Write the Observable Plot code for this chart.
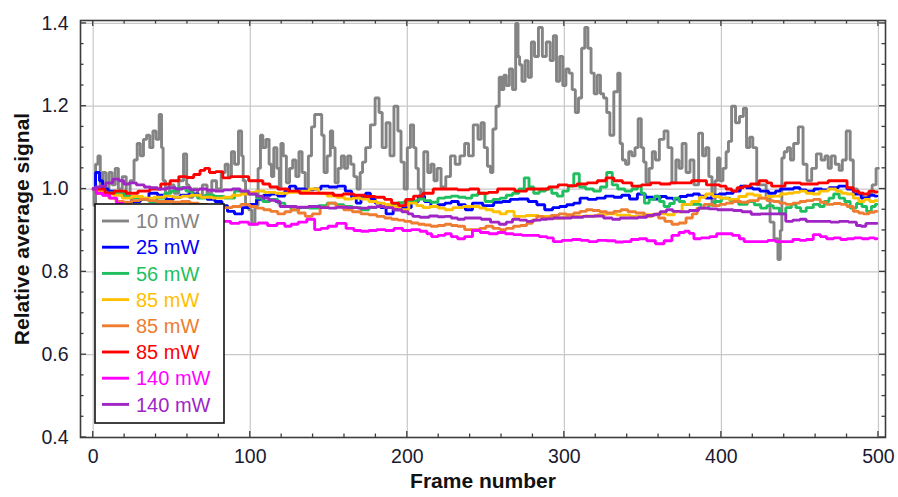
<!DOCTYPE html>
<html>
<head>
<meta charset="utf-8">
<script src="https://cdn.jsdelivr.net/npm/d3@7"></script>
<script src="https://cdn.jsdelivr.net/npm/@observablehq/plot@0.6"></script>
<style>
  body { margin: 0; background: #fff; }
  #chart { width: 898px; height: 497px; }
</style>
</head>
<body>
<div id="chart"></div>
<script>
// Relative average signal per frame, one [frame, value] list per laser power
const p10 = [[0,1.00],[1,0.96],[2,1.06],[4,1.08],[5,1.00],[7,1.04],[9,0.99],[11,1.04],[13,1.01],[15,1.05],[17,1.00],[20,1.03],[22,0.99],[25,1.02],[27,1.07],[29,1.11],[31,1.08],[33,1.12],[35,1.13],[37,1.10],[39,1.14],[41,1.12],[43,1.18],[44,1.10],[45,1.02],[47,0.99],[50,1.01],[53,0.99],[56,1.02],[59,1.085],[60,1.01],[62,0.98],[65,1.00],[68,0.985],[71,1.01],[74,0.99],[77,1.02],[80,1.00],[83,1.04],[85,1.06],[87,1.03],[89,1.09],[91,1.06],[94,1.14],[95,1.08],[96,1.02],[98,0.96],[100,0.95],[102,0.915],[104,0.96],[106,1.05],[107,1.13],[109,1.10],[111,1.12],[113,1.06],[114,1.03],[116,1.10],[118,1.05],[119,1.00],[120,1.11],[122,1.08],[124,1.015],[126,1.05],[128,1.07],[130,1.03],[132,1.09],[134,1.04],[136,1.00],[138,1.08],[140,1.15],[142,1.18],[145,1.18],[146,1.13],[148,1.04],[150,1.08],[152,1.14],[153,1.10],[155,1.015],[157,1.05],[159,1.08],[161,1.05],[163,1.08],[165,1.06],[167,1.03],[169,1.00],[171,1.04],[172,1.065],[175,1.10],[178,1.155],[181,1.22],[183,1.185],[185,1.10],[188,1.16],[190,1.08],[193,1.20],[195,1.14],[197,1.065],[199,1.00],[201,1.10],[203,1.155],[205,1.10],[206,1.05],[208,1.00],[209,0.98],[212,1.09],[214,1.04],[216,1.06],[218,1.02],[220,1.05],[223,1.005],[226,1.03],[229,1.08],[232,1.06],[235,1.08],[238,1.11],[240,1.08],[244,1.155],[246,1.12],[248,1.16],[250,1.10],[252,1.055],[254,1.04],[255,1.145],[258,1.20],[259,1.27],[261,1.24],[262,1.275],[264,1.25],[266,1.29],[268,1.24],[270,1.40],[271,1.32],[272,1.30],[274,1.26],[276,1.31],[278,1.27],[280,1.355],[282,1.32],[285,1.39],[287,1.32],[290,1.355],[292,1.31],[294,1.37],[296,1.26],[298,1.32],[300,1.25],[302,1.29],[304,1.28],[306,1.24],[308,1.185],[310,1.22],[312,1.34],[314,1.39],[316,1.34],[318,1.28],[320,1.23],[322,1.275],[324,1.23],[326,1.22],[328,1.185],[330,1.13],[333,1.235],[335,1.28],[336,1.11],[338,1.07],[340,1.06],[342,1.09],[344,1.08],[346,1.10],[348,1.17],[350,1.10],[351,1.065],[353,1.015],[355,1.05],[357,1.09],[359,1.07],[362,1.12],[365,1.14],[367,1.10],[370,1.015],[372,1.07],[374,1.05],[376,1.11],[379,1.04],[381,1.07],[384,1.01],[387,1.135],[389,1.08],[391,1.10],[393,1.03],[395,0.96],[397,1.02],[398,1.075],[400,1.02],[402,1.05],[404,1.09],[405,1.115],[408,1.20],[410,1.16],[413,1.175],[415,1.195],[417,1.10],[419,1.125],[421,1.10],[424,1.01],[427,1.01],[430,0.98],[432,0.92],[435,0.88],[437,0.83],[438,0.90],[439,1.075],[441,1.09],[443,1.10],[445,1.07],[447,1.11],[451,1.15],[453,1.06],[456,1.02],[459,1.05],[462,1.085],[465,1.07],[467,1.08],[469,1.05],[471,1.08],[474,1.06],[476,1.045],[478,1.07],[481,1.14],[483,1.07],[485,1.00],[488,0.99],[492,0.98],[495,0.99],[497,1.01],[500,1.05]];

const p25 = [[0,1.0],[3,1.04],[5,1.02],[7,1.0],[12,0.995],[17,0.988],[22,0.98],[27,0.97],[33,0.975],[38,0.99],[44,0.985],[49,0.975],[53,0.98],[58,0.985],[64,0.988],[70,0.98],[75,0.975],[80,0.97],[84,0.96],[87,0.946],[93,0.94],[97,0.955],[102,0.963],[106,0.975],[111,0.985],[115,0.988],[120,0.983],[124,0.995],[126,1.007],[132,1.0],[138,0.998],[143,1.0],[147,1.007],[153,1.005],[158,1.007],[163,0.995],[166,0.98],[169,0.966],[172,0.98],[175,0.99],[178,0.975],[181,0.966],[185,0.955],[188,0.94],[194,0.95],[200,0.955],[205,0.97],[209,0.983],[213,0.97],[217,0.958],[222,0.962],[226,0.966],[230,0.97],[235,0.962],[239,0.95],[244,0.966],[252,0.96],[258,0.968],[263,0.97],[268,0.975],[274,0.976],[280,0.97],[285,0.962],[290,0.95],[295,0.955],[299,0.958],[304,0.962],[308,0.966],[312,0.978],[318,0.975],[323,0.978],[329,0.983],[334,0.98],[339,0.985],[344,0.976],[349,0.988],[354,0.98],[359,0.976],[363,0.982],[367,0.978],[371,0.976],[376,0.982],[380,0.985],[384,0.988],[388,0.983],[392,0.978],[396,0.985],[401,0.988],[405,0.99],[410,0.995],[414,1.007],[418,1.003],[422,1.0],[427,0.995],[433,0.99],[436,0.995],[439,1.0],[444,1.0],[448,1.003],[452,0.998],[456,0.995],[462,1.0],[466,0.998],[471,1.003],[478,1.007],[482,1.0],[486,0.988],[492,0.978],[496,0.985],[499,0.983]];

const p56 = [[0,1.0],[4,0.995],[8,0.988],[13,0.99],[18,0.99],[23,0.982],[27,0.978],[33,0.975],[38,0.97],[43,0.978],[48,0.99],[51,0.995],[57,1.003],[61,0.995],[65,0.985],[68,0.978],[74,0.985],[80,0.982],[87,0.978],[93,0.995],[97,0.99],[102,0.988],[106,0.978],[110,0.97],[115,0.975],[120,0.966],[124,0.958],[128,0.95],[134,0.955],[141,0.954],[146,0.96],[152,0.966],[157,0.962],[162,0.958],[168,0.955],[173,0.95],[178,0.955],[183,0.958],[188,0.96],[192,0.963],[196,0.967],[200,0.97],[205,0.972],[209,0.976],[213,0.972],[217,0.968],[222,0.978],[226,0.98],[230,0.983],[235,0.98],[239,0.978],[243,0.985],[247,0.99],[252,0.97],[257,0.975],[261,0.978],[265,0.985],[269,0.99],[273,1.0],[276,1.027],[279,1.005],[282,0.99],[286,0.995],[290,1.0],[294,0.99],[297,0.983],[301,0.995],[304,1.007],[308,1.037],[311,1.005],[316,1.0],[321,0.995],[325,1.005],[329,1.04],[332,1.01],[336,1.0],[341,0.995],[345,1.0],[348,1.007],[350,0.99],[352,0.966],[356,0.975],[359,0.983],[362,0.97],[365,0.958],[369,0.965],[371,0.978],[375,0.97],[378,0.963],[384,0.963],[390,0.954],[394,0.962],[397,0.97],[403,0.978],[408,0.972],[414,0.963],[419,0.97],[423,0.962],[427,0.954],[431,0.96],[435,0.954],[439,0.94],[443,0.955],[446,0.963],[449,0.955],[452,0.946],[456,0.955],[461,0.963],[464,0.958],[467,0.97],[470,0.978],[473,0.988],[477,0.978],[480,0.97],[484,0.954],[488,0.965],[491,0.958],[494,0.946],[497,0.958],[499,0.963]];

const p85a = [[0,1.0],[5,0.995],[10,0.99],[16,0.985],[21,0.978],[28,0.982],[35,0.978],[42,0.98],[48,0.983],[54,0.98],[59,0.983],[65,0.985],[72,0.98],[80,0.978],[86,0.98],[91,0.985],[97,0.988],[101,0.992],[106,0.995],[112,0.992],[120,0.99],[128,0.992],[134,0.995],[141,1.0],[146,0.99],[152,0.983],[158,0.98],[162,0.976],[168,0.978],[173,0.976],[178,0.97],[183,0.966],[188,0.962],[192,0.958],[198,0.95],[204,0.966],[208,0.96],[212,0.955],[217,0.958],[222,0.954],[226,0.95],[232,0.955],[239,0.958],[244,0.958],[248,0.954],[252,0.95],[257,0.945],[261,0.94],[265,0.946],[271,0.934],[280,0.936],[287,0.934],[297,0.93],[303,0.933],[308,0.934],[318,0.935],[324,0.938],[329,0.94],[338,0.937],[346,0.934],[354,0.938],[363,0.94],[368,0.938],[372,0.945],[378,0.963],[384,0.97],[388,0.98],[392,0.988],[397,0.982],[401,0.978],[408,0.975],[414,0.982],[418,0.988],[423,0.985],[427,0.978],[431,0.982],[435,0.983],[440,0.988],[444,0.99],[448,0.992],[452,0.995],[456,0.99],[460,0.988],[465,0.995],[471,1.0],[475,0.995],[478,0.99],[482,0.988],[486,0.978],[489,0.97],[493,0.975],[496,0.97],[499,0.972]];

const p85b = [[0,1.0],[4,0.99],[8,0.985],[12,0.978],[17,0.97],[22,0.968],[27,0.972],[32,0.975],[38,0.972],[43,0.97],[48,0.97],[53,0.968],[59,0.97],[64,0.966],[70,0.963],[75,0.958],[80,0.954],[86,0.955],[91,0.958],[97,0.963],[102,0.958],[106,0.954],[111,0.95],[115,0.946],[120,0.94],[124,0.945],[128,0.95],[133,0.942],[137,0.934],[142,0.94],[147,0.955],[152,0.966],[157,0.958],[162,0.95],[168,0.945],[173,0.94],[178,0.938],[183,0.934],[188,0.93],[192,0.927],[196,0.925],[200,0.922],[205,0.918],[209,0.915],[213,0.913],[217,0.91],[222,0.912],[226,0.915],[230,0.912],[234,0.91],[239,0.902],[244,0.902],[248,0.905],[252,0.91],[257,0.905],[261,0.902],[265,0.905],[270,0.91],[274,0.912],[278,0.917],[281,0.925],[284,0.934],[289,0.93],[294,0.936],[299,0.94],[304,0.938],[308,0.942],[312,0.946],[316,0.95],[320,0.948],[325,0.945],[329,0.942],[334,0.946],[338,0.95],[343,0.945],[348,0.942],[354,0.934],[358,0.938],[362,0.93],[366,0.922],[371,0.915],[375,0.918],[380,0.93],[383,0.94],[386,0.954],[392,0.963],[397,0.96],[401,0.963],[405,0.966],[410,0.97],[415,0.968],[420,0.972],[427,0.978],[431,0.972],[435,0.97],[439,0.966],[443,0.963],[448,0.966],[452,0.97],[456,0.972],[461,0.975],[465,0.968],[469,0.963],[474,0.965],[478,0.963],[482,0.958],[486,0.946],[489,0.942],[492,0.94],[496,0.944],[499,0.946]];

const p85c = [[0,1.0],[5,1.0],[10,0.99],[17,0.995],[25,0.99],[32,0.995],[40,1.0],[46,1.012],[52,1.02],[57,1.03],[62,1.028],[66,1.035],[70,1.045],[72,1.05],[76,1.04],[80,1.042],[85,1.027],[90,1.03],[96,1.03],[102,1.02],[106,1.02],[110,1.012],[115,1.005],[120,1.0],[128,0.995],[135,0.99],[141,0.99],[150,0.99],[156,0.985],[162,0.988],[170,0.985],[176,0.982],[183,0.98],[188,0.975],[192,0.966],[197,0.96],[201,0.975],[207,0.983],[213,0.99],[220,1.0],[228,1.0],[236,0.998],[243,1.0],[248,0.99],[255,0.992],[260,1.0],[265,1.0],[272,0.995],[280,1.0],[287,1.0],[293,1.005],[299,1.01],[305,1.008],[311,1.012],[318,1.015],[324,1.02],[329,1.027],[334,1.02],[340,1.015],[346,1.007],[352,1.01],[358,1.015],[364,1.012],[371,1.015],[378,1.015],[384,1.02],[388,1.02],[393,1.01],[397,1.01],[401,1.007],[405,1.0],[408,0.995],[412,1.003],[416,1.007],[421,1.012],[427,1.02],[431,1.015],[433,1.007],[438,1.007],[443,1.015],[448,1.015],[453,1.012],[458,1.012],[465,1.015],[471,1.02],[478,1.02],[482,1.003],[486,0.995],[489,0.99],[492,0.988],[496,0.995],[499,0.993]];

const p140a = [[0,1.0],[4,0.99],[8,0.985],[13,0.978],[17,0.965],[21,0.955],[26,0.945],[32,0.94],[40,0.935],[50,0.93],[60,0.925],[70,0.92],[80,0.92],[85,0.922],[90,0.917],[96,0.92],[102,0.915],[108,0.918],[114,0.912],[120,0.917],[124,0.91],[128,0.915],[133,0.92],[139,0.927],[143,0.902],[147,0.905],[152,0.91],[158,0.917],[164,0.905],[168,0.9],[173,0.898],[178,0.9],[183,0.902],[189,0.9],[194,0.905],[200,0.9],[205,0.902],[211,0.898],[214,0.892],[217,0.885],[222,0.888],[226,0.892],[230,0.885],[234,0.88],[239,0.885],[244,0.9],[249,0.895],[255,0.892],[260,0.895],[265,0.892],[270,0.89],[276,0.888],[281,0.888],[287,0.885],[291,0.882],[295,0.873],[302,0.876],[308,0.878],[313,0.876],[318,0.873],[324,0.876],[330,0.875],[335,0.872],[340,0.873],[345,0.878],[350,0.88],[355,0.875],[361,0.868],[366,0.875],[371,0.888],[375,0.895],[378,0.898],[381,0.893],[384,0.88],[390,0.882],[395,0.885],[399,0.892],[404,0.892],[410,0.888],[413,0.88],[416,0.873],[421,0.873],[427,0.873],[432,0.876],[437,0.873],[443,0.873],[448,0.878],[452,0.876],[456,0.878],[461,0.89],[465,0.885],[469,0.88],[474,0.882],[478,0.878],[482,0.88],[487,0.882],[492,0.88],[496,0.882],[499,0.88]];

const p140b = [[0,1.0],[3,1.005],[6,1.007],[10,1.015],[15,1.024],[18,1.02],[21,1.012],[25,1.015],[30,1.01],[35,1.005],[38,1.003],[44,1.0],[50,1.003],[55,1.0],[59,1.003],[65,0.998],[70,1.0],[75,0.997],[80,0.995],[86,0.998],[91,1.0],[96,0.995],[102,0.988],[106,0.983],[110,0.978],[114,0.973],[118,0.97],[120,0.958],[126,0.958],[133,0.956],[141,0.958],[148,0.955],[152,0.954],[158,0.956],[165,0.955],[172,0.954],[178,0.956],[183,0.958],[188,0.955],[194,0.95],[199,0.945],[202,0.94],[205,0.934],[211,0.932],[217,0.935],[222,0.933],[226,0.934],[230,0.93],[234,0.927],[239,0.93],[244,0.93],[250,0.927],[256,0.92],[261,0.915],[265,0.92],[269,0.927],[274,0.925],[278,0.922],[283,0.925],[287,0.927],[291,0.928],[295,0.93],[301,0.93],[308,0.932],[316,0.934],[322,0.935],[328,0.93],[333,0.927],[338,0.93],[344,0.93],[350,0.932],[355,0.936],[359,0.939],[363,0.945],[367,0.95],[371,0.946],[377,0.945],[382,0.948],[389,0.954],[395,0.952],[400,0.95],[405,0.95],[410,0.948],[416,0.945],[422,0.939],[428,0.94],[434,0.94],[439,0.94],[443,0.922],[448,0.925],[452,0.927],[456,0.922],[461,0.922],[467,0.922],[472,0.92],[478,0.922],[484,0.92],[488,0.912],[490,0.91],[494,0.917],[499,0.917]];

const seriesData = [p10, p25, p56, p85a, p85b, p85c, p140a, p140b];
const seriesLabels = ["10 mW", "25 mW", "56 mW", "85 mW", "85 mW", "85 mW", "140 mW", "140 mW"];
const seriesColors = ["#848484", "#0000ff", "#1fbf5f", "#ffc000", "#ee7d31", "#ff0000", "#ff00ff", "#a025c5"];

const xTicks = [0, 100, 200, 300, 400, 500];
const yTicks = [0.4, 0.6, 0.8, 1.0, 1.2, 1.4];
const xMinorStep = 20;
const yMinorStep = 0.05;

const inkColor = "#1a1a30";

const lineMarks = seriesData.map((pts, i) =>
  Plot.line(pts, {
    x: d => d[0],
    y: d => d[1],
    stroke: seriesColors[i],
    strokeWidth: 2.9,
    curve: "step",
    strokeLinejoin: "miter"
  })
);

const chart = Plot.plot({
  width: 898,
  height: 497,
  marginLeft: 80,
  marginRight: 13,
  marginTop: 20,
  marginBottom: 60,
  style: { fontFamily: "'Liberation Sans', Arial, sans-serif", background: "#fff", overflow: "visible" },
  x: { domain: [-8.1, 504.5] },
  y: { domain: [0.4, 1.407] },
  marks: [
    Plot.gridX(xTicks, { stroke: "#c8c8c8", strokeOpacity: 1, strokeWidth: 1.2 }),
    Plot.gridY(yTicks, { stroke: "#c8c8c8", strokeOpacity: 1, strokeWidth: 1.2 }),
    ...lineMarks,
    Plot.frame({ stroke: "#3c3c3c", strokeWidth: 1.6 }),
    Plot.axisX(xTicks, { tickSize: 0, tickPadding: 12, fontSize: 19.5, fill: inkColor, label: null }),
    Plot.axisY(yTicks, { tickSize: 0, tickPadding: 12, fontSize: 19.5, fill: inkColor, label: null, tickFormat: d3.format(".1f") }),
    Plot.text(["Frame number"], { text: d => d, frameAnchor: "bottom", dy: 50, fontWeight: "bold", fontSize: 21, fill: "#111" }),
    Plot.text(["Relative average signal"], { text: d => d, frameAnchor: "left", textAnchor: "middle", dx: -58, rotate: -90, fontWeight: "bold", fontSize: 21, fill: "#111" })
  ]
});

document.getElementById("chart").append(chart);

// Inward-pointing major and minor ticks on all four sides of the frame
const sx = chart.scale("x");
const sy = chart.scale("y");
const [frameLeft, frameRight] = sx.range;
const [frameBottom, frameTop] = sy.range;
const svgSel = d3.select(chart);
const tickG = svgSel.append("g").attr("stroke", "#3c3c3c").attr("stroke-width", 1.3);

d3.range(0, 501, xMinorStep).forEach(v => {
  const px = sx.apply(v);
  const len = v % 100 === 0 ? 6 : 3.5;
  tickG.append("line").attr("x1", px).attr("x2", px).attr("y1", frameBottom).attr("y2", frameBottom - len);
  tickG.append("line").attr("x1", px).attr("x2", px).attr("y1", frameTop).attr("y2", frameTop + len);
});
d3.range(0, 21).forEach(i => {
  const v = 0.4 + i * yMinorStep;
  const py = sy.apply(v);
  const len = i % 4 === 0 ? 6 : 3.5;
  tickG.append("line").attr("y1", py).attr("y2", py).attr("x1", frameLeft).attr("x2", frameLeft + len);
  tickG.append("line").attr("y1", py).attr("y2", py).attr("x1", frameRight).attr("x2", frameRight - len);
});

// Boxed legend in the lower-left corner of the plot area
const legendG = svgSel.append("g").attr("transform", "translate(95,204)");
legendG.append("rect")
  .attr("width", 129).attr("height", 219)
  .attr("fill", "#fff").attr("stroke", "#111").attr("stroke-width", 1.6);
seriesLabels.forEach((label, i) => {
  const cy = 17 + i * 26.2;
  legendG.append("line")
    .attr("x1", 7).attr("x2", 34).attr("y1", cy).attr("y2", cy)
    .attr("stroke", seriesColors[i]).attr("stroke-width", 2.9);
  legendG.append("text")
    .attr("x", 41).attr("y", cy).attr("dy", "0.36em")
    .attr("text-anchor", "start")
    .attr("fill", seriesColors[i])
    .attr("font-family", "'Liberation Sans', Arial, sans-serif")
    .attr("font-size", 20)
    .text(label);
});
</script>
</body>
</html>
